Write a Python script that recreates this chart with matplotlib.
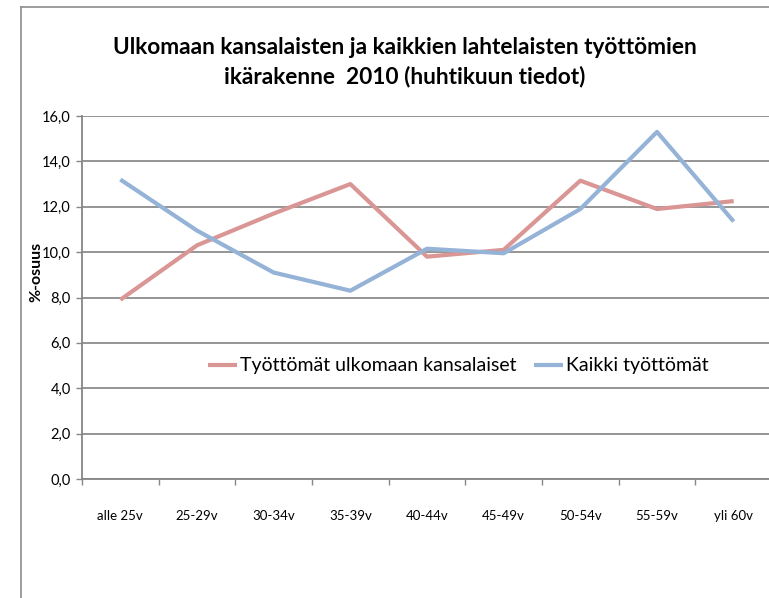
import matplotlib.pyplot as plt
from matplotlib.lines import Line2D
from matplotlib.ticker import FuncFormatter

plt.rcParams["font.family"] = ["Lato", "DejaVu Sans"]

age_groups = ["alle 25v", "25-29v", "30-34v", "35-39v", "40-44v",
              "45-49v", "50-54v", "55-59v", "yli 60v"]
foreign = [7.9, 10.3, 11.7, 13.0, 9.8, 10.1, 13.15, 11.9, 12.25]
all_unemployed = [13.2, 10.95, 9.1, 8.3, 10.15, 9.95, 11.9, 15.3, 11.35]

fig = plt.figure(figsize=(7.69, 5.98), dpi=100)

# chart border (only left and top edges visible in the crop)
fig.add_artist(Line2D([21 / 769, 21 / 769], [0, 1 - 7 / 598],
                      color="#8c8c8c", lw=1.2, transform=fig.transFigure))
fig.add_artist(Line2D([21 / 769, 1], [1 - 7 / 598, 1 - 7 / 598],
                      color="#8c8c8c", lw=1.2, transform=fig.transFigure))

ax = fig.add_axes([82 / 769, 1 - 479 / 598, 690 / 769, 363 / 598])

x = range(len(age_groups))
ax.plot(x, foreign, color="#d99694", lw=3.0, solid_capstyle="butt",
        label="Työttömät ulkomaan kansalaiset")
ax.plot(x, all_unemployed, color="#95b3d7", lw=3.0, solid_capstyle="butt",
        label="Kaikki työttömät")

ax.set_xlim(-0.5, len(age_groups) - 0.5)
ax.set_ylim(0, 16)
ax.set_yticks(range(0, 17, 2))
ax.yaxis.set_major_formatter(FuncFormatter(lambda v, p: f"{v:.1f}".replace(".", ",")))
ax.set_xticks(x)
ax.set_xticklabels(age_groups, fontsize=9.5)
ax.set_xticks([i - 0.5 for i in range(len(age_groups) + 1)], minor=True)
ax.tick_params(axis="x", which="major", length=0, pad=22)
ax.tick_params(axis="x", which="minor", length=4, color="#868686", width=1)
ax.tick_params(axis="y", length=4, color="#868686", width=1, labelsize=10.5, pad=4)

ax.grid(axis="y", color="#8c8c8c", lw=1.3)
ax.set_axisbelow(True)
for side in ["top", "right"]:
    ax.spines[side].set_visible(False)
for side in ["left", "bottom"]:
    ax.spines[side].set_color("#868686")
    ax.spines[side].set_linewidth(1.3)

fig.text(36 / 769, 1 - 272 / 598, "%-osuus", rotation=90, ha="center",
         va="center", fontsize=11.5, fontweight="bold")

ax.legend(loc="center", bbox_to_anchor=(458 / 769, 1 - 366 / 598),
          bbox_transform=fig.transFigure, ncol=2, frameon=False,
          fontsize=14, handlelength=1.5, handletextpad=0.15,
          columnspacing=0.9)

fig.text(405 / 769, 1 - 62 / 598,
         "Ulkomaan kansalaisten ja kaikkien lahtelaisten työttömien\n"
         "ikärakenne  2010 (huhtikuun tiedot)",
         ha="center", va="center", fontsize=16.3, fontweight="bold",
         linespacing=1.45)

fig.savefig("out.png", dpi=100)
